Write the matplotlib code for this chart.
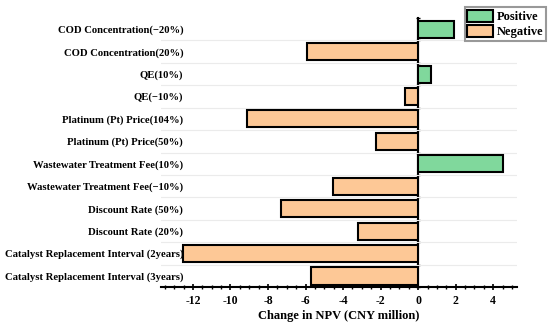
import matplotlib.pyplot as plt
import numpy as np
from matplotlib.patches import Patch

plt.rcParams['font.family'] = ['Liberation Serif', 'DejaVu Serif']
plt.rcParams['font.weight'] = 'bold'
plt.rcParams['axes.labelweight'] = 'bold'

# bottom to top
labels = [
    'Catalyst Replacement Interval (3years)',
    'Catalyst Replacement Interval (2years)',
    'Discount Rate (20%)',
    'Discount Rate (50%)',
    'Wastewater Treatment Fee(\u221210%)',
    'Wastewater Treatment Fee(10%)',
    'Platinum (Pt) Price(50%)',
    'Platinum (Pt) Price(104%)',
    'QE(\u221210%)',
    'QE(10%)',
    'COD Concentration(20%)',
    'COD Concentration(\u221220%)',
]
npv_change = [-5.72, -12.53, -3.23, -7.32, -4.51, 4.5, -2.27, -9.14, -0.71, 0.71, -5.92, 1.9]

color_pos = '#80d89c'
color_neg = '#fdc896'

fig = plt.figure(figsize=(5.5, 3.25), dpi=100)
ax = fig.add_axes([0.2927, 0.1163, 0.6467, 0.8283])

y = np.arange(len(labels))
colors = [color_pos if v > 0 else color_neg for v in npv_change]
ax.barh(y, npv_change, height=0.76, color=colors, edgecolor='black', linewidth=1.5, zorder=3)

xmin, xmax = -13.7, 5.25
ax.set_xlim(xmin, xmax)
ax.set_ylim(-0.5, len(labels) - 0.5)

ax.set_yticks(y)
ax.set_yticklabels(labels, fontsize=7.7)
ax.set_yticks(np.arange(0.5, len(labels) - 1, 1), minor=True)
ax.tick_params(axis='y', which='both', length=0, pad=-16)
ax.grid(axis='y', which='minor', color='#ebebeb', linewidth=0.8, zorder=0)

ax.set_xticks(np.arange(-12, 5, 2))
ax.set_xticks(np.arange(-13.5, 5.1, 0.5), minor=True)
ax.tick_params(axis='x', which='major', direction='inout', length=4, width=1.2, labelsize=8.5)
ax.tick_params(axis='x', which='minor', direction='inout', length=2.5, width=1)
ax.set_xticklabels([str(int(t)) for t in np.arange(-12, 5, 2)])
ax.set_xlabel('Change in NPV (CNY million)', fontsize=9, labelpad=2)

for s in ['top', 'right', 'left']:
    ax.spines[s].set_visible(False)
ax.spines['bottom'].set_linewidth(1.5)

# axis line through zero
zero_frac = (0 - xmin) / (xmax - xmin)
sec = ax.secondary_yaxis(zero_frac)
sec.set_yticks(np.arange(-0.5, len(labels), 1))
sec.set_yticklabels([])
sec.tick_params(direction='inout', length=3, width=1)
sec.spines['right'].set_linewidth(1.5)
sec.spines['left'].set_linewidth(1.5)

handles = [Patch(facecolor=color_pos, edgecolor='black', linewidth=1.5, label='Positive'),
           Patch(facecolor=color_neg, edgecolor='black', linewidth=1.5, label='Negative')]
leg = fig.legend(handles=handles, loc='upper right', bbox_to_anchor=(0.993, 0.978),
                 fontsize=9, frameon=True, fancybox=False, handlelength=2.1, handleheight=1.2,
                 borderpad=0.2, labelspacing=0.1, handletextpad=0.3, borderaxespad=0)
leg.get_frame().set_edgecolor('#808080')
leg.get_frame().set_linewidth(1.5)

plt.savefig('out.png', dpi=100)
